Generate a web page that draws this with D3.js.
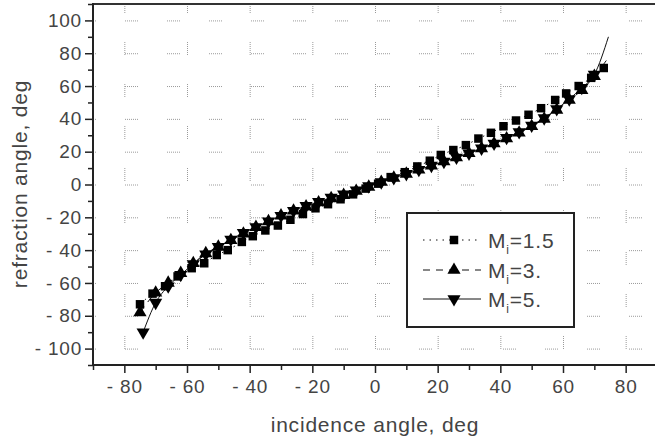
<!DOCTYPE html>
<html>
<head>
<meta charset="utf-8">
<script src="https://cdn.jsdelivr.net/npm/d3@7"></script>
<style>
  html, body { margin: 0; padding: 0; background: #fff; }
  svg { display: block; }
  text { font-family: "Liberation Sans", Arial, sans-serif; fill: #444; }
</style>
</head>
<body>
<script>
// series (incidence angle -> refraction angle, deg)
const m15X = [-75, -71, -67, -63, -58.5, -54.5, -50.5, -47, -42.5, -39, -35, -31, -27, -23, -19, -15, -11, -7, -3, 1, 5, 9.5, 13.5, 17.5, 21, 25, 29, 33, 37, 41, 45, 49, 53, 57.5, 61, 65, 69, 73];
const m15Y = [-73, -66.5, -62, -56, -51, -48, -43, -40, -35, -31.5, -28, -25, -21.5, -18, -14.5, -12, -9, -6, -2.5, 0.5, 4.5, 7.5, 11, 14.5, 18, 21, 24, 28, 31.5, 35.5, 39, 42.5, 46.5, 51.5, 55.5, 60, 65, 71];

const m3X = [-75, -70, -66, -62, -58, -54, -50, -46, -42, -38, -34, -30, -26, -22, -18, -14, -10, -6, -2, 2, 6, 10, 14, 18, 22, 26, 30, 34, 38, 42, 46, 50, 54, 58, 62, 66, 70];
const m3Y = [-78, -66, -60, -54, -48, -42, -38, -34, -30, -26, -22.5, -19, -16, -13.5, -11, -8.5, -6.5, -4, -1.5, 1.5, 4, 6.5, 9, 11.5, 14, 16.5, 19, 22, 25, 28, 31.5, 35.5, 40, 45.5, 51.5, 57.5, 66];

const m5X = [-74, -70, -66, -62, -58, -54, -50, -46, -42, -38, -34, -30, -26, -22, -18, -14, -10, -6, -2, 2, 6, 10, 14, 18, 22, 26, 30, 34, 38, 42, 46, 50, 54, 58, 62, 66, 70];
const m5Y = [-90, -72, -62, -55, -48.5, -42.5, -38, -33.5, -29.5, -26, -22.5, -19, -16, -13, -10.5, -8, -6, -3.5, -1, 1.5, 4, 6.5, 9, 11.5, 14, 16.5, 19, 22, 25, 28.5, 32, 36, 40.5, 46, 52, 59, 67];

// where the fitted curves end beyond the last marker
const m3End = [74, 76];
const m5End = [74.5, 90];

const xMajor = [-80, -60, -40, -20, 0, 20, 40, 60, 80];
const yMajor = [-100, -80, -60, -40, -20, 0, 20, 40, 60, 80, 100];
const legendNames = ["=1.5", "=3.", "=5."];

const W = 655, H = 441;
const pL = 93, pR = 657, pT = 4, pB = 365;

const svg = d3.select("body").append("svg").attr("width", W).attr("height", H);

const x = d3.scaleLinear().domain([-90, 90]).range([pL, pR]);
const y = d3.scaleLinear().domain([-110, 110]).range([pB, pT]);

// dotted grid (broken up like the scan)
const grid = svg.append("g").attr("stroke", "#9a9a9a").attr("stroke-width", 1);
grid.selectAll(".gh").data(yMajor).enter().append("line")
  .attr("x1", pL).attr("x2", pR)
  .attr("y1", d => y(d) + 0.5).attr("y2", d => y(d) + 0.5)
  .attr("stroke-dasharray", "1,1,1,1,1,1,1,1,1,1,1,1,1,29")
  .attr("stroke-dashoffset", 10);
grid.selectAll(".gv").data(xMajor).enter().append("line")
  .attr("y1", pT).attr("y2", pB)
  .attr("x1", d => x(d) + 0.5).attr("x2", d => x(d) + 0.5)
  .attr("stroke-dasharray", "1,1,1,1,1,1,1,1,1,1,1,1,1,29")
  .attr("stroke-dashoffset", 4);

// axes
const yMinor = d3.range(-110, 111, 10).filter(v => !yMajor.includes(v));
const xMinor = d3.range(-90, 91, 10).filter(v => !xMajor.includes(v));
const fmt = d => d < 0 ? "- " + Math.abs(d) : String(d);

svg.append("g").attr("transform", `translate(${pL},0)`)
  .call(d3.axisLeft(y).tickValues(yMajor).tickSize(8).tickPadding(3).tickFormat(fmt));
svg.append("g").attr("transform", `translate(${pL},0)`)
  .call(d3.axisLeft(y).tickValues(yMinor).tickSize(5).tickFormat(""));

svg.append("g").attr("transform", `translate(0,${pB})`)
  .call(d3.axisBottom(x).tickValues(xMajor).tickSize(8).tickPadding(7).tickFormat(fmt));
svg.append("g").attr("transform", `translate(0,${pB})`)
  .call(d3.axisBottom(x).tickValues(xMinor).tickSize(5).tickFormat(""));

svg.selectAll(".domain").remove();
svg.selectAll(".tick line").attr("stroke", "#222").attr("stroke-width", 1.5);
svg.selectAll(".tick text").attr("font-size", 19).attr("fill", "#444")
  .attr("letter-spacing", 0.8)
  .attr("font-family", "Liberation Sans, Arial, sans-serif");

// frame
svg.append("line").attr("x1", pL).attr("x2", pR).attr("y1", pT).attr("y2", pT)
  .attr("stroke", "#333").attr("stroke-width", 2);
svg.append("line").attr("x1", pL).attr("x2", pL).attr("y1", pT - 1).attr("y2", pB + 1)
  .attr("stroke", "#222").attr("stroke-width", 2);
svg.append("line").attr("x1", pL - 1).attr("x2", pR).attr("y1", pB).attr("y2", pB)
  .attr("stroke", "#222").attr("stroke-width", 2);

// titles
svg.append("text").attr("x", 375).attr("y", 432).attr("text-anchor", "middle")
  .attr("font-size", 21).attr("letter-spacing", 0.8).text("incidence angle, deg");
svg.append("text").attr("transform", "translate(27,184) rotate(-90)").attr("text-anchor", "middle")
  .attr("font-size", 21).attr("letter-spacing", 0.8).text("refraction angle, deg");

// series
const zipPts = (xs, ys) => xs.map((v, i) => [v, ys[i]]);
const s15 = zipPts(m15X, m15Y);
const s3 = zipPts(m3X, m3Y);
const s5 = zipPts(m5X, m5Y);

const line = d3.line().x(d => x(d[0])).y(d => y(d[1])).curve(d3.curveMonotoneX);

const series = [
  { pts: s15, path: s15, dash: "1.5,5", sym: d3.symbolSquare, size: 72, rot: 0 },
  { pts: s3, path: s3.concat([m3End]), dash: "7,6", sym: d3.symbolTriangle, size: 75, rot: 0 },
  { pts: s5, path: s5.concat([m5End]), dash: null, sym: d3.symbolTriangle, size: 75, rot: 180 }
];

const plot = svg.append("g");
series.forEach(s => {
  plot.append("path").datum(s.path).attr("d", line)
    .attr("fill", "none").attr("stroke", "#111").attr("stroke-width", 1)
    .attr("stroke-dasharray", s.dash);
});
series.forEach(s => {
  plot.selectAll(null).data(s.pts).enter().append("path")
    .attr("d", d3.symbol().type(s.sym).size(s.size))
    .attr("transform", d => `translate(${x(d[0])},${y(d[1])}) rotate(${s.rot})`)
    .attr("fill", "#000");
});

// legend
const lg = svg.append("g");
lg.append("rect").attr("x", 407).attr("y", 213).attr("width", 167).attr("height", 114)
  .attr("fill", "#fff").attr("stroke", "#222").attr("stroke-width", 2);
const rowY = [240, 270, 299];
series.forEach((s, i) => {
  lg.append("line").attr("x1", 423).attr("x2", 481).attr("y1", rowY[i]).attr("y2", rowY[i])
    .attr("stroke", "#111").attr("stroke-dasharray", s.dash);
  lg.append("path").attr("d", d3.symbol().type(s.sym).size(s.size))
    .attr("transform", `translate(454,${rowY[i]}) rotate(${s.rot})`).attr("fill", "#000");
  const t = lg.append("text").attr("x", 488).attr("y", rowY[i] + 8).attr("font-size", 21)
    .attr("letter-spacing", 0.8);
  t.append("tspan").text("M");
  t.append("tspan").attr("font-size", 12).attr("dy", 6).text("i");
  t.append("tspan").attr("dy", -6).text(legendNames[i]);
});
</script>
</body>
</html>
